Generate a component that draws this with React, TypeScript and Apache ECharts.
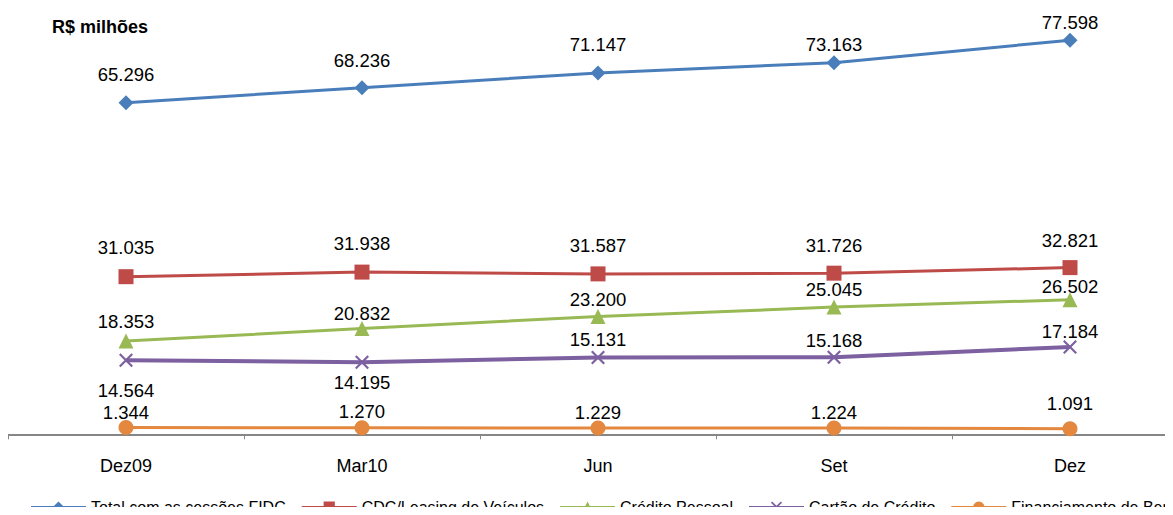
import React, { useEffect, useRef } from "react";
import * as echarts from "echarts";

const categories = ["Dez09", "Mar10", "Jun", "Set", "Dez"];
const totalFidc = [65296, 68236, 71147, 73163, 77598];
const cdcLeasing = [31035, 31938, 31587, 31726, 32821];
const creditoPessoal = [18353, 20832, 23200, 25045, 26502];
const cartaoCredito = [14564, 14195, 15131, 15168, 17184];
const financiamentoBens = [1344, 1270, 1229, 1224, 1091];

// label placement (px above the point centre; negative = below)
const offTotal = [28, 27, 28, 18, 18];
const offCdc = [29, 29, 28, 28, 27];
const offPessoal = [20, 15, 17, 18, 13];
const offCartao = [-30, -20, 18, 17, 16];
const offFin = [15, 16, 16, 16, 25];

const fmt = (v: number) =>
  Math.round(v).toString().replace(/\B(?=(\d{3})+(?!\d))/g, ".");

const FONT = "Liberation Sans, Arial, sans-serif";
const X_SYMBOL =
  "path://M0,1.1 L1.1,0 L5,3.9 L8.9,0 L10,1.1 L6.1,5 L10,8.9 L8.9,10 L5,6.1 L1.1,10 L0,8.9 L3.9,5 Z";

const withLabels = (vals: number[], offs: number[]) =>
  vals.map((v, i) => ({
    value: v,
    label: { position: "inside", offset: [0, -offs[i]] },
  }));

export default function App() {
  const ref = useRef<HTMLDivElement>(null);
  useEffect(() => {
    if (!ref.current) return;
    const chart = echarts.init(ref.current, undefined, { renderer: "svg" });
    const labelBase = {
      show: true,
      color: "#000",
      fontSize: 18.5,
      fontFamily: FONT,
      formatter: (p: any) => fmt(p.value),
    };
    const mk = (
      name: string,
      vals: number[],
      offs: number[],
      color: string,
      symbol: string,
      symbolSize: number,
      width: number
    ) => ({
      name,
      type: "line",
      data: withLabels(vals, offs),
      symbol,
      symbolSize,
      color,
      itemStyle: { color },
      lineStyle: { width, color },
      label: { ...labelBase },
    });
    chart.setOption({
      animation: false,
      title: {
        text: "R$ milhões",
        left: 47,
        top: 13,
        textStyle: { fontSize: 18, fontWeight: "bold", fontFamily: FONT, color: "#000" },
      },
      grid: { left: 8, width: 1180, top: 28, bottom: 80.7 },
      legend: {
        top: 494,
        left: 25,
        itemWidth: 55,
        itemHeight: 14,
        itemGap: 15,
        textStyle: { fontSize: 16, fontFamily: FONT, color: "#000" },
        data: [
          "Total com as cessões FIDC",
          "CDC/Leasing de Veículos",
          "Crédito Pessoal",
          "Cartão de Crédito",
          "Financiamento de Bens",
        ],
      },
      xAxis: {
        type: "category",
        data: categories,
        boundaryGap: true,
        axisLine: { lineStyle: { color: "#868686", width: 2 } },
        axisTick: { show: true, length: 5, lineStyle: { color: "#868686", width: 1 } },
        axisLabel: { fontSize: 18, fontFamily: FONT, color: "#000", margin: 23 },
      },
      yAxis: { type: "value", min: 0, max: 80000, show: false, splitLine: { show: false } },
      series: [
        mk("Total com as cessões FIDC", totalFidc, offTotal, "#4A7EBB", "diamond", 15, 3),
        mk("CDC/Leasing de Veículos", cdcLeasing, offCdc, "#BE4B48", "rect", 15, 3),
        mk("Crédito Pessoal", creditoPessoal, offPessoal, "#98B954", "triangle", 15, 3),
        mk("Cartão de Crédito", cartaoCredito, offCartao, "#7D60A0", X_SYMBOL, 14, 4),
        mk("Financiamento de Bens", financiamentoBens, offFin, "#E3883E", "circle", 15, 3),
      ],
    });
    return () => chart.dispose();
  }, []);
  return (
    <div style={{ width: 1173, height: 515, margin: -8, overflow: "hidden", position: "relative" }}>
      <div ref={ref} style={{ width: 1200, height: 515 }} />
    </div>
  );
}
